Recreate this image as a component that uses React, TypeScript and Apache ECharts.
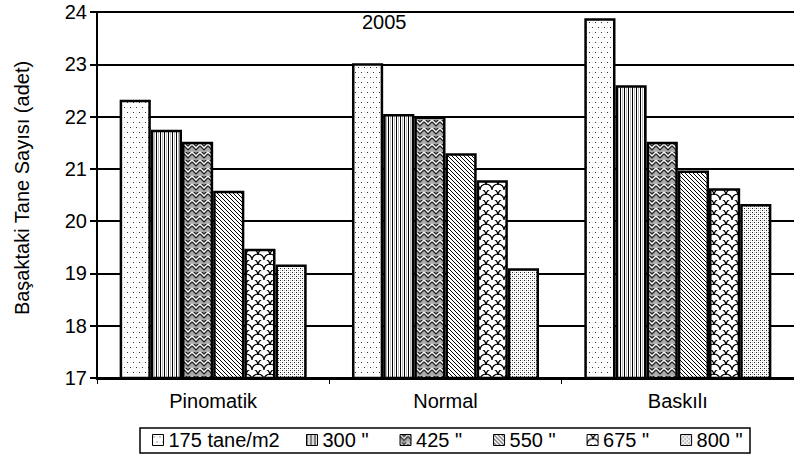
import React, { useEffect, useRef } from "react";
import * as echarts from "echarts";

const categories = ["Pinomatik", "Normal", "Baskılı"];
const seriesNames = ['175 tane/m2', '300 "', '425 "', '550 "', '675 "', '800 "'];
const s175 = [22.32, 23.02, 23.88];
const s300 = [21.75, 22.05, 22.6];
const s425 = [21.52, 22.0, 21.52];
const s550 = [20.58, 21.3, 20.97];
const s675 = [19.47, 20.78, 20.63];
const s800 = [19.17, 19.1, 20.33];
const yTicks = [17, 18, 19, 20, 21, 22, 23, 24];
const titleText = "2005";
const yAxisTitle = "Başaktaki Tane Sayısı (adet)";

const FONT = '"Liberation Sans", Arial, sans-serif';

function makePattern(kind: string) {
  const c = document.createElement("canvas");
  let w = 4, h = 4;
  if (kind === "p175") { w = 6; h = 10; }
  if (kind === "p300") { w = 4; h = 4; }
  if (kind === "p425") { w = 8; h = 8; }
  if (kind === "p550") { w = 4; h = 4; }
  if (kind === "p675") { w = 12; h = 10; }
  if (kind === "p800") { w = 4; h = 4; }
  c.width = w; c.height = h;
  const ctx = c.getContext("2d")!;
  ctx.fillStyle = "#fff";
  ctx.fillRect(0, 0, w, h);
  if (kind === "p175") {
    ctx.fillStyle = "#e4e4e4";
    ctx.fillRect(4, 2, 1, 1); ctx.fillRect(1, 7, 1, 1);
    ctx.fillStyle = "#333";
    ctx.fillRect(1, 2, 1, 1); ctx.fillRect(4, 7, 1, 1);
  } else if (kind === "p300") {
    ctx.fillStyle = "#000";
    ctx.fillRect(0, 0, 1, h);
    ctx.fillStyle = "#bbb";
    ctx.fillRect(2, 0, 1, h);
  } else if (kind === "p425") {
    ctx.fillStyle = "#aaa";
    ctx.fillRect(0, 0, w, h);
    ctx.lineWidth = 1.2;
    ctx.strokeStyle = "#fff";
    ctx.beginPath();
    ctx.moveTo(0, 0); ctx.lineTo(4, 4); ctx.lineTo(8, 0);
    ctx.moveTo(0, 8); ctx.lineTo(4, 12); ctx.lineTo(8, 8);
    ctx.stroke();
    ctx.strokeStyle = "#222";
    ctx.beginPath();
    ctx.moveTo(0, 2); ctx.lineTo(4, 6); ctx.lineTo(8, 2);
    ctx.moveTo(0, -2); ctx.lineTo(4, 2); ctx.lineTo(8, -2);
    ctx.stroke();
  } else if (kind === "p550") {
    ctx.fillStyle = "#000";
    for (let i = 0; i < 4; i++) ctx.fillRect(i, i, 1, 1);
  } else if (kind === "p675") {
    ctx.strokeStyle = "#000";
    ctx.lineWidth = 1.2;
    const centers = [[0, 5], [12, 5], [6, 10], [6, 0]];
    for (const [cx, cy] of centers) {
      ctx.beginPath();
      ctx.arc(cx, cy, 6, Math.PI, 2 * Math.PI);
      ctx.stroke();
    }
  } else if (kind === "p800") {
    ctx.fillStyle = "#bbb";
    ctx.fillRect(2, 0, 1, 1); ctx.fillRect(0, 2, 1, 1);
    ctx.fillStyle = "#222";
    ctx.fillRect(0, 0, 1, 1); ctx.fillRect(2, 2, 1, 1);
  }
  return { image: c.toDataURL(), imageWidth: w, imageHeight: h, repeat: "repeat" };
}

export default function App() {
  const ref = useRef<HTMLDivElement>(null);
  useEffect(() => {
    if (!ref.current) return;
    const chart = echarts.init(ref.current, null, { renderer: "svg" });
    const kinds = ["p175", "p300", "p425", "p550", "p675", "p800"];
    const data = [s175, s300, s425, s550, s675, s800];
    const series = seriesNames.map((name, i) => ({
      name,
      type: "bar",
      data: data[i],
      barGap: "0%",
      barCategoryGap: "19.5%",
      itemStyle: {
        color: makePattern(kinds[i]) as any,
        borderColor: "#000",
        borderWidth: 2.5,
      },
    }));
    const legendCommon = {
      top: 430,
      itemWidth: 11,
      itemHeight: 11,
      padding: 0,
      icon: "rect",
      itemStyle: { borderColor: "#000", borderWidth: 1 },
      textStyle: { color: "#000", fontSize: 20, fontFamily: FONT },
    };
    chart.setOption({
      animation: false,
      backgroundColor: "#fff",
      grid: { left: 97, top: 12, width: 705, height: 366, containLabel: false },
      xAxis: {
        type: "category",
        data: categories,
        axisLine: { lineStyle: { color: "#000", width: 3 } },
        axisTick: { show: true, length: 6, lineStyle: { color: "#000", width: 1 } },
        axisLabel: { color: "#000", fontSize: 20, fontFamily: FONT, margin: 13 },
      },
      yAxis: {
        type: "value",
        min: yTicks[0],
        max: yTicks[yTicks.length - 1],
        interval: 1,
        axisLine: { show: true, lineStyle: { color: "#000", width: 2 } },
        axisTick: { show: true, length: 7, lineStyle: { color: "#000", width: 2 } },
        axisLabel: { color: "#000", fontSize: 20, fontFamily: FONT, margin: 10 },
        splitLine: { show: true, lineStyle: { color: "#000", width: 2 } },
      },
      legend: [
        { ...legendCommon, left: 152, data: [seriesNames[0]] },
        { ...legendCommon, left: 306, itemGap: 31, data: seriesNames.slice(1) },
      ],
      graphic: [
        {
          type: "rect",
          shape: { x: 140, y: 428, width: 610, height: 25 },
          style: { fill: "none", stroke: "#000", lineWidth: 1.5 },
          z: 10,
        },
        {
          type: "text",
          x: 362,
          y: 12,
          style: { text: titleText, font: `20px ${FONT}`, fill: "#000" },
        },
        {
          type: "text",
          x: 22,
          y: 188,
          rotation: Math.PI / 2,
          style: {
            text: yAxisTitle,
            font: `20px ${FONT}`,
            fill: "#000",
            textAlign: "center",
            textVerticalAlign: "middle",
          },
        },
      ],
      series,
    } as any);
    return () => chart.dispose();
  }, []);
  return (
    <div
      ref={ref}
      style={{ position: "absolute", left: 0, top: 0, width: 794, height: 462, background: "#fff" }}
    />
  );
}
